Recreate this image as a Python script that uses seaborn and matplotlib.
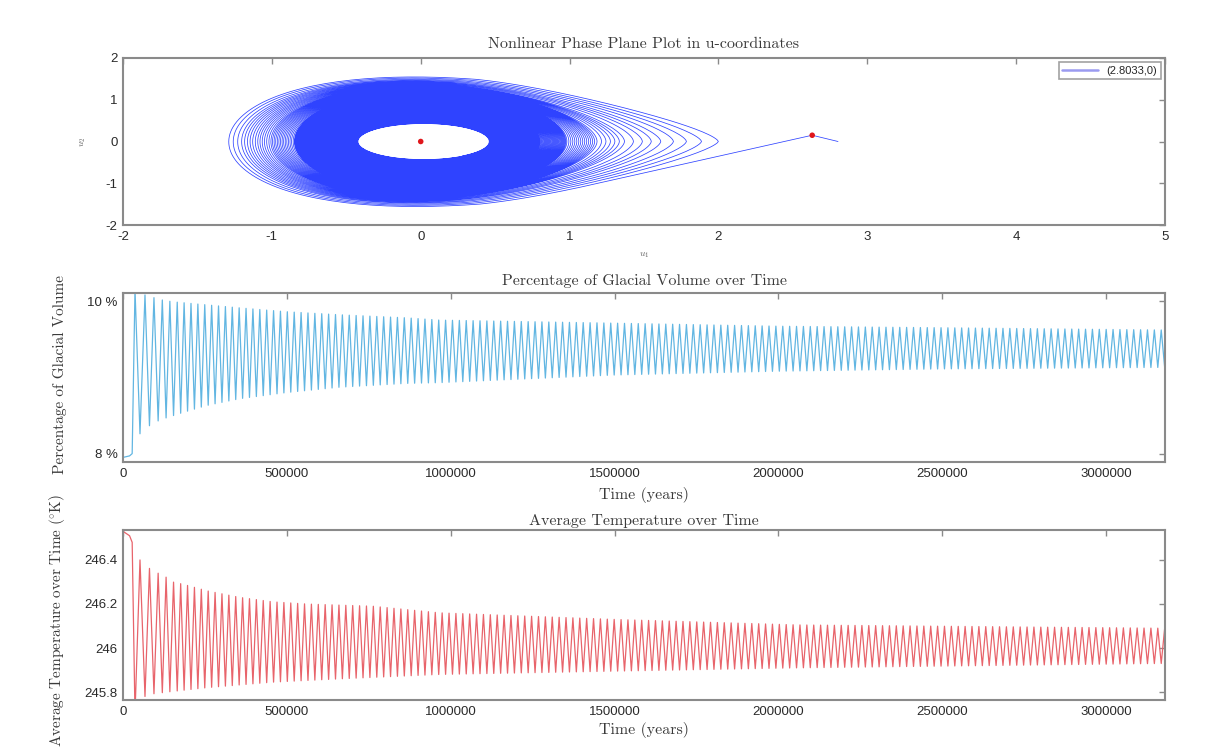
import numpy as np
import pandas as pd
import matplotlib
matplotlib.use("Agg")
import matplotlib.pyplot as plt
import seaborn as sns

# ==== phase plane (u-coordinates), loop envelope ====
loop_k = [0, 1, 2, 3, 5, 9, 15, 30, 60, 100, 150]
loop_right = [2.11, 1.98, 1.87, 1.77, 1.60, 1.36, 1.18, 0.98, 0.80, 0.62, 0.46]
loop_left = [-1.30, -1.27, -1.24, -1.21, -1.17, -1.10, -1.01, -0.85, -0.72, -0.58, -0.42]
loop_half_h = [1.50, 1.48, 1.46, 1.44, 1.41, 1.36, 1.30, 1.20, 0.98, 0.70, 0.43]
loop_skew = [0.30, 0.28, 0.26, 0.24, 0.21, 0.16, 0.11, 0.05, 0.02, 0.0, 0.0]
loop_tip = [0.70, 0.72, 0.74, 0.76, 0.79, 0.84, 0.90, 0.96, 1.0, 1.0, 1.0]
n_loops = 150
lead_u1 = [2.8033, 2.63]
lead_u2 = [0.0, 0.15]
equil_u1 = [0.0, 2.63]
equil_u2 = [0.0, 0.15]

# ==== time series: extrema envelopes ====
early_peaks_t = [36600, 67100, 94500, 120000, 143000, 165500]
cycle_years = 21000
t_end = 3180000

start_t = [0, 20000, 28000]
glac_start = [7.95, 7.97, 8.00]
temp_start = [246.53, 246.51, 246.48]

glac_hi_t = [36600, 67000, 97600, 123000, 153000, 204000, 255000, 357000, 499000,
             661000, 865000, 966000, 1500000, 2000000, 2500000, 3180000]
glac_hi_v = [10.15, 10.08, 10.04, 10.01, 9.99, 9.97, 9.95, 9.91, 9.86,
             9.82, 9.78, 9.75, 9.71, 9.67, 9.65, 9.62]
glac_lo_t = [52000, 82000, 108000, 133000, 184000, 255000, 357000, 499000,
             661000, 865000, 966000, 1500000, 2000000, 2500000, 3180000]
glac_lo_v = [8.26, 8.37, 8.43, 8.47, 8.54, 8.63, 8.72, 8.80,
             8.87, 8.92, 8.93, 9.03, 9.08, 9.11, 9.13]

temp_hi_t = [52000, 82000, 107000, 134000, 152000, 183000, 256000, 357000, 457000,
             561000, 762000, 966000, 1500000, 2060000, 3180000]
temp_hi_v = [246.40, 246.36, 246.34, 246.32, 246.30, 246.29, 246.26, 246.23, 246.21,
             246.20, 246.19, 246.16, 246.13, 246.105, 246.09]
temp_lo_t = [36600, 67000, 82000, 134000, 256000, 457000, 661000, 966000,
             1500000, 2060000, 3180000]
temp_lo_v = [245.70, 245.78, 245.79, 245.80, 245.82, 245.845, 245.86, 245.88,
             245.895, 245.91, 245.93]

glac_ticks = [8, 10]
glac_ticklabels = ["8 %", "10 %"]
temp_ticks = [245.8, 246.0, 246.2, 246.4]
temp_ticklabels = ["245.8", "246", "246.2", "246.4"]
time_ticks = [0, 500000, 1000000, 1500000, 2000000, 2500000, 3000000]

# ---------------------------------------------------------------------------
# phase plane trajectory: lead-in, then a spiral through the loop envelope
s = np.linspace(0, 2 * np.pi * n_loops, n_loops * 200)
k = s / (2 * np.pi)
R = np.interp(k, loop_k, loop_right)
L = np.interp(k, loop_k, loop_left)
B = np.interp(k, loop_k, loop_half_h)
P = np.interp(k, loop_k, loop_skew)
M = np.interp(k, loop_k, loop_tip)
th = -0.3 * np.pi - s
c = np.cos(th)
c_mod = np.where(c >= 0, 1 - np.abs(1 - c) ** M, c)
u1 = (R + L) / 2 + (R - L) / 2 * c_mod
u2 = B * np.sin(th) * (1 - P * c)
phase = pd.DataFrame({"u1": np.concatenate([lead_u1, u1]),
                      "u2": np.concatenate([lead_u2, u2])})

# time series: alternating extrema (glacial peak = temperature trough)
peaks = list(early_peaks_t)
while peaks[-1] < t_end + cycle_years:
    peaks.append(peaks[-1] + cycle_years)
peaks = np.array(peaks, dtype=float)
mids = (peaks[:-1] + peaks[1:]) / 2
ext_t = np.empty(len(peaks) + len(mids))
ext_t[0::2] = peaks
ext_t[1::2] = mids
is_peak = np.zeros(len(ext_t), dtype=bool)
is_peak[0::2] = True

glac_v = np.where(is_peak, np.interp(ext_t, glac_hi_t, glac_hi_v),
                  np.interp(ext_t, glac_lo_t, glac_lo_v))
temp_v = np.where(is_peak, np.interp(ext_t, temp_lo_t, temp_lo_v),
                  np.interp(ext_t, temp_hi_t, temp_hi_v))
glac = pd.DataFrame({"t": np.concatenate([start_t, ext_t]),
                     "v": np.concatenate([glac_start, glac_v])})
temp = pd.DataFrame({"t": np.concatenate([start_t, ext_t]),
                     "v": np.concatenate([temp_start, temp_v])})

# ---------------------------------------------------------------------------
sns.set_style("white")
plt.rcParams["font.family"] = ["Liberation Sans", "DejaVu Sans"]
plt.rcParams["mathtext.fontset"] = "cm"
plt.rcParams["axes.unicode_minus"] = False
SERIF = ["cmr10", "DejaVu Serif"]
SPINE = "#8a8a8a"
TICKC = "#2a2a2a"
TXT = "#3a3a3a"
TSIZE = 11.5

fig = plt.figure(figsize=(12.2, 7.47), dpi=100)
W, H = 1220, 747


def make_ax(top, bottom):
    return fig.add_axes([123 / W, 1 - bottom / H, (1165 - 123) / W, (bottom - top) / H])


def style_ax(ax):
    for sp in ax.spines.values():
        sp.set_color(SPINE)
        sp.set_linewidth(1.5)
    ax.tick_params(direction="in", length=4, width=1.0, color=SPINE,
                   top=True, right=True, labelsize=9.5, labelcolor=TICKC, pad=4)


ax1 = make_ax(58, 225)
ax2 = make_ax(293, 462)
ax3 = make_ax(530, 700)

# --- phase plane
sns.lineplot(data=phase, x="u1", y="u2", sort=False, estimator=None, ax=ax1,
             color="#0a22ff", lw=0.55, alpha=0.85, label="(2.8033,0)")
sns.scatterplot(x=equil_u1, y=equil_u2, ax=ax1, color="#e0161b", s=16,
                edgecolor="none", zorder=5)
ax1.set_xlim(-2, 5)
ax1.set_ylim(-2, 2)
ax1.set_xticks(range(-2, 6))
ax1.set_yticks(range(-2, 3))
style_ax(ax1)
ax1.set_title("Nonlinear Phase Plane Plot in u-coordinates", family=SERIF,
              fontsize=TSIZE, color=TXT, y=1.084, pad=0, va="center")
ax1.set_xlabel(r"$u_1$", fontsize=7, color="#666666")
ax1.xaxis.set_label_coords(0.5, -0.15)
ax1.set_ylabel(r"$u_2$", fontsize=7, color="#666666")
ax1.yaxis.set_label_coords(-0.034, 0.5)
leg = ax1.legend(loc="upper right", fontsize=8, frameon=True, handlelength=3.2,
                 borderpad=0.3, fancybox=False, borderaxespad=0.4)
leg.get_frame().set_edgecolor(SPINE)
leg.get_frame().set_linewidth(1.2)
for line in leg.get_lines():
    line.set_color("#9a9af0")
    line.set_alpha(1)
    line.set_linewidth(1.8)

# --- glacial volume
sns.lineplot(data=glac, x="t", y="v", sort=False, estimator=None, ax=ax2,
             color="#62b6e2", lw=0.9)
ax2.set_xlim(0, t_end)
ax2.set_ylim(7.89, 10.105)
ax2.set_xticks(time_ticks)
ax2.set_xticklabels([str(t) for t in time_ticks])
ax2.set_yticks(glac_ticks)
ax2.set_yticklabels(glac_ticklabels)
style_ax(ax2)
ax2.set_title("Percentage of Glacial Volume over Time", family=SERIF,
              fontsize=TSIZE, color=TXT, y=1.071, pad=0, va="center")
ax2.set_xlabel("Time (years)", family=SERIF, fontsize=TSIZE, color=TXT)
ax2.xaxis.set_label_coords(0.5, -0.15)
ax2.set_ylabel("Percentage of Glacial Volume", family=SERIF, fontsize=11,
               color=TXT)
ax2.yaxis.set_label_coords(-0.054, 0.52)

# --- temperature
sns.lineplot(data=temp, x="t", y="v", sort=False, estimator=None, ax=ax3,
             color="#e8646b", lw=0.9)
ax3.set_xlim(0, t_end)
ax3.set_ylim(245.764, 246.536)
ax3.set_xticks(time_ticks)
ax3.set_xticklabels([str(t) for t in time_ticks])
ax3.set_yticks(temp_ticks)
ax3.set_yticklabels(temp_ticklabels)
style_ax(ax3)
ax3.set_title("Average Temperature over Time", family=SERIF,
              fontsize=TSIZE, color=TXT, y=1.053, pad=0, va="center")
ax3.set_xlabel("Time (years)", family=SERIF, fontsize=TSIZE, color=TXT)
ax3.xaxis.set_label_coords(0.5, -0.13)
ax3.set_ylabel(r"$\mathrm{Average\ Temperature\ over\ Time\ (^{\circ}K)}$",
               fontsize=11, color=TXT)
ax3.yaxis.set_label_coords(-0.054, 0.47)

fig.savefig("out.png", dpi=100, facecolor="white")
